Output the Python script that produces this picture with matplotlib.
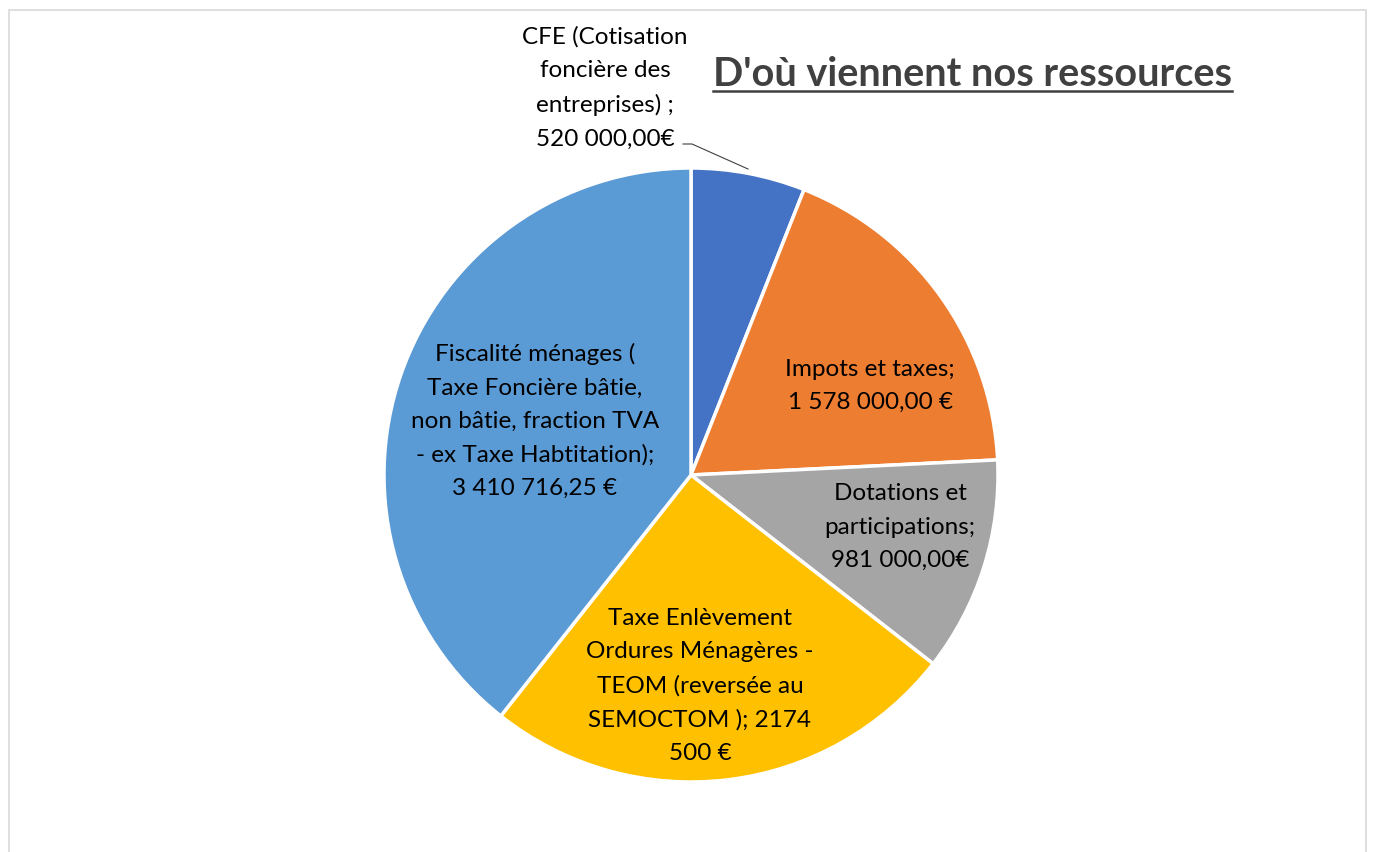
import numpy as np
import matplotlib
matplotlib.use('Agg')
import matplotlib.pyplot as plt
from matplotlib.patches import Rectangle

plt.rcParams['font.family'] = ['Lato', 'DejaVu Sans']

# Données
categories = [
    "CFE (Cotisation\nfoncière des\nentreprises) ;\n520 000,00€",
    "Impots et taxes;\n1 578 000,00 €",
    "Dotations et\nparticipations;\n981 000,00€",
    "Taxe Enlèvement\nOrdures Ménagères -\nTEOM (reversée au\nSEMOCTOM ); 2174\n500 €",
    "Fiscalité ménages (\nTaxe Foncière bâtie,\nnon bâtie, fraction TVA\n- ex Taxe Habtitation);\n3 410 716,25 €",
]
valeurs = [520000.00, 1578000.00, 981000.00, 2174500.00, 3410716.25]
couleurs = ['#4472C4', '#ED7D31', '#A5A5A5', '#FFC000', '#5B9BD5']

W, H = 1379, 853
cx, cy, r = 691, 476, 307

fig = plt.figure(figsize=(W/100, H/100), dpi=100)
fig.patches.append(Rectangle((9/W, -0.1), (1366-9)/W, 1.1 - 11/H,
                             transform=fig.transFigure, fill=False,
                             edgecolor='#D9D9D9', linewidth=1.2))

ax = fig.add_axes([(cx-r)/W, (H-cy-r)/H, 2*r/W, 2*r/H])
ax.pie(valeurs, colors=couleurs, startangle=90, counterclock=False,
       wedgeprops=dict(edgecolor='white', linewidth=2.5))
ax.set_xlim(-1, 1); ax.set_ylim(-1, 1)
ax.set_aspect('equal')
ax.axis('off')

# position des étiquettes (pixels de l'image)
pos_etiq = [(605, 88), (870, 386), (900, 527), (700, 686), (535, 421)]
def px2d(px, py):
    return (px - cx) / r, (cy - py) / r

for lab, (px, py) in zip(categories, pos_etiq):
    x, y = px2d(px, py)
    ax.text(x, y, lab, ha='center', va='center', fontsize=17.5,
            color='black', linespacing=1.72, clip_on=False)

# ligne de rappel CFE
x0, y0 = px2d(683, 145)
x1, y1 = px2d(692, 145)
x2, y2 = px2d(748, 170)
ax.plot([x0, x1, x2], [y0, y1, y2], color='#404040', linewidth=0.8, clip_on=False)

# titre souligné
t = fig.text(972/W, 1 - 74/H, "D'où viennent nos ressources", ha='center', va='center',
             fontsize=28.5, fontweight='bold', color='#404040')
fig.canvas.draw()
bb = t.get_window_extent().transformed(fig.transFigure.inverted())
fig.add_artist(plt.Line2D([bb.x0, bb.x1], [bb.y0 + 0.001, bb.y0 + 0.001],
                          transform=fig.transFigure, color='#404040', linewidth=1.8))

fig.savefig('out.png', dpi=100)
